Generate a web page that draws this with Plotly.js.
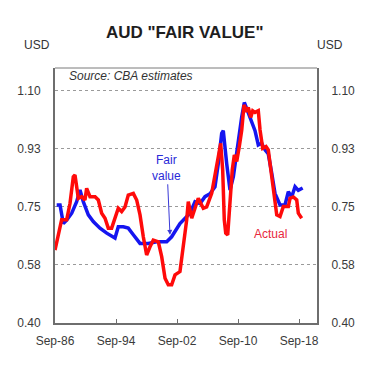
<!DOCTYPE html>
<html>
<head>
<meta charset="utf-8">
<script src="https://cdn.plot.ly/plotly-3.0.1.min.js"></script>
<style>html,body{margin:0;padding:0;background:#fff}#chart{width:368px;height:368px}</style>
</head>
<body>
<div id="chart"></div>
<script>
// Decimal years (Sep-86 = 1986.67)
const fairYears = [1986.89,1987.33,1987.76,1988.20,1988.86,1989.51,1989.95,1990.38,1991.04,1991.69,1992.57,1993.45,1994.54,1994.97,1995.63,1996.28,1996.94,1997.82,1998.91,2000.00,2001.32,2001.97,2003.06,2004.37,2005.03,2005.69,2006.34,2007.00,2007.65,2008.09,2008.53,2008.74,2009.19,2009.62,2010.06,2010.41,2010.71,2011.16,2011.50,2012.25,2012.90,2013.33,2013.78,2014.21,2014.64,2015.09,2015.52,2016.18,2016.83,2017.27,2017.71,2018.15,2018.58,2019.15];
const fairValue = [0.756,0.756,0.700,0.710,0.731,0.766,0.801,0.766,0.726,0.706,0.686,0.671,0.656,0.690,0.690,0.686,0.666,0.640,0.640,0.645,0.645,0.660,0.700,0.731,0.766,0.760,0.781,0.790,0.811,0.882,0.972,0.980,0.880,0.801,0.841,0.902,0.947,1.022,1.065,1.020,0.980,0.937,0.942,0.922,0.910,0.852,0.791,0.756,0.756,0.796,0.780,0.811,0.800,0.807];

const actualYears = [1986.67,1987.10,1987.54,1988.20,1988.64,1989.07,1989.29,1989.73,1990.17,1990.60,1990.82,1991.26,1991.92,1992.35,1992.79,1993.23,1993.66,1994.10,1994.54,1994.97,1995.41,1995.85,1996.28,1996.94,1997.38,1997.82,1998.25,1998.69,1999.13,1999.56,2000.22,2000.66,2001.10,2001.53,2001.97,2002.41,2003.06,2003.50,2003.94,2004.15,2004.60,2005.03,2005.46,2006.12,2006.56,2007.22,2007.65,2008.09,2008.40,2008.66,2008.87,2009.06,2009.32,2009.62,2009.92,2010.19,2010.50,2010.84,2011.16,2011.46,2011.81,2012.02,2012.34,2012.60,2012.90,2013.33,2013.56,2013.91,2014.34,2014.64,2015.09,2015.52,2015.75,2016.18,2016.61,2017.27,2017.49,2017.93,2018.37,2018.58,2019.02];
const actualValue = [0.620,0.660,0.711,0.711,0.761,0.841,0.846,0.776,0.781,0.771,0.806,0.781,0.781,0.771,0.731,0.716,0.686,0.686,0.721,0.746,0.736,0.750,0.786,0.791,0.771,0.726,0.660,0.605,0.630,0.650,0.645,0.600,0.535,0.515,0.515,0.545,0.555,0.630,0.711,0.766,0.716,0.746,0.776,0.746,0.750,0.791,0.841,0.902,0.942,0.862,0.711,0.671,0.666,0.781,0.862,0.907,0.887,0.932,0.982,1.058,1.037,1.050,1.020,1.040,1.035,1.040,0.982,0.927,0.932,0.922,0.841,0.781,0.726,0.721,0.751,0.751,0.776,0.780,0.771,0.731,0.716];

const xTickVals = [1986.67,1994.67,2002.67,2010.67,2018.67];
const xTickText = ["Sep-86","Sep-94","Sep-02","Sep-10","Sep-18"];
const yTickVals = [0.40,0.575,0.75,0.925,1.10];
const yTickText = ["0.40","0.58","0.75","0.93","1.10"];

const FONT = "Liberation Sans, Arial, sans-serif";
const yRange = [0.40, 1.169];
const xRange = [1986.67, 2021.03];

const traces = [
  {x: fairYears, y: fairValue, type: "scatter", mode: "lines", name: "Fair value",
   line: {color: "#1515f0", width: 3.5}, hoverinfo: "skip"},
  {x: actualYears, y: actualValue, type: "scatter", mode: "lines", name: "Actual",
   line: {color: "#ff0a0a", width: 3.5}, hoverinfo: "skip"},
  {x: [xRange[0]], y: [yRange[0]], yaxis: "y2", type: "scatter", mode: "markers",
   marker: {opacity: 0}, hoverinfo: "skip", showlegend: false}
];

const yCommon = {
  range: yRange, tickvals: yTickVals, ticktext: yTickText,
  ticks: "", showgrid: false, zeroline: false,
  tickfont: {family: FONT, size: 12, color: "#3a3a3a"},
  ticklabelstandoff: 10, showline: true, linecolor: "#6e6e6e", linewidth: 2
};

const layout = {
  width: 368, height: 368,
  margin: {l: 55, r: 51, t: 68, b: 45},
  paper_bgcolor: "#fff", plot_bgcolor: "#fff",
  showlegend: false,
  title: {text: "<b>AUD \"FAIR VALUE\"</b>", font: {family: FONT, size: 17, color: "#1e1e1e"},
          x: 0.502, xanchor: "center", y: 0.913, yanchor: "middle"},
  xaxis: {range: xRange, tickvals: xTickVals, ticktext: xTickText,
          ticks: "inside", ticklen: 4, tickcolor: "#6e6e6e", tickwidth: 1,
          showgrid: false, zeroline: false, showline: true, linecolor: "#6e6e6e", linewidth: 2,
          tickfont: {family: FONT, size: 12, color: "#3a3a3a"}, ticklabelstandoff: 6},
  yaxis: Object.assign({}, yCommon, {side: "left",
          showgrid: true, gridcolor: "#9a9a9a", griddash: "dot", gridwidth: 1}),
  yaxis2: Object.assign({}, yCommon, {side: "right", overlaying: "y"}),
  shapes: [
    {type: "line", xref: "paper", yref: "paper", x0: 0, x1: 1, y0: 1, y1: 1,
     line: {color: "#7a7a7a", width: 1}}
  ],
  annotations: [
    {xref: "paper", yref: "paper", x: -0.07, y: 1.09, text: "USD", showarrow: false,
     font: {family: FONT, size: 12, color: "#333"}, xanchor: "center", yanchor: "middle"},
    {xref: "paper", yref: "paper", x: 1.05, y: 1.09, text: "USD", showarrow: false,
     font: {family: FONT, size: 12, color: "#333"}, xanchor: "center", yanchor: "middle"},
    {xref: "paper", yref: "paper", x: 0.045, y: 0.97, text: "<i>Source: CBA estimates</i>", showarrow: false,
     font: {family: FONT, size: 12, color: "#333"}, xanchor: "left", yanchor: "middle"},
    {x: 2001.75, y: 0.666, xref: "x", yref: "y", text: "Fair<br>value",
     showarrow: true, arrowhead: 2, arrowsize: 1, arrowwidth: 1, arrowcolor: "#3a3ad8",
     ax: -3, ay: -67, font: {family: FONT, size: 12, color: "#2a2ad8"}},
    {x: 2014.87, y: 0.669, xref: "x", yref: "y", text: "Actual", showarrow: false,
     font: {family: FONT, size: 12, color: "#e8283c"}}
  ]
};

Plotly.newPlot("chart", traces, layout, {staticPlot: true, displayModeBar: false});
</script>
</body>
</html>
